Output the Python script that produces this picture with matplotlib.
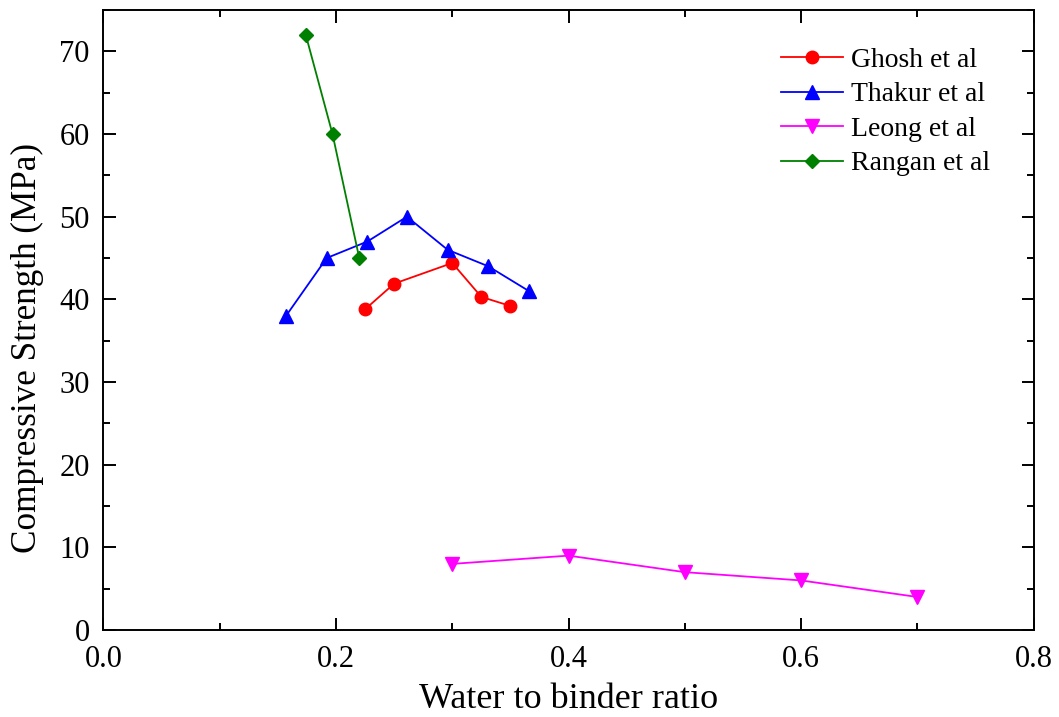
import matplotlib
matplotlib.use("Agg")
import matplotlib.pyplot as plt
from matplotlib.ticker import MultipleLocator, FormatStrFormatter

plt.rcParams['font.family'] = ['Liberation Serif', 'DejaVu Serif']

ghosh_x = [0.225, 0.25, 0.30, 0.325, 0.35]
ghosh_y = [38.8, 41.9, 44.4, 40.3, 39.2]

thakur_x = [0.157, 0.192, 0.227, 0.261, 0.296, 0.331, 0.366]
thakur_y = [38, 45, 47, 50, 46, 44, 41]

leong_x = [0.3, 0.4, 0.5, 0.6, 0.7]
leong_y = [8, 9, 7, 6, 4]

rangan_x = [0.174, 0.197, 0.220]
rangan_y = [72, 60, 45]

fig = plt.figure(figsize=(10.59, 7.17), dpi=100)
ax = fig.add_axes([0.0977, 0.1213, 0.8783, 0.8647])

ax.plot(ghosh_x, ghosh_y, color='#ff0000', marker='o', markersize=9, lw=1.3, label='Ghosh et al')
ax.plot(thakur_x, thakur_y, color='#0000ff', marker='^', markersize=10, lw=1.3, label='Thakur et al')
ax.plot(leong_x, leong_y, color='#ff00ff', marker='v', markersize=10, lw=1.3, label='Leong et al')
ax.plot(rangan_x, rangan_y, color='#008000', marker='D', markersize=7.5, lw=1.3, label='Rangan et al')

ax.set_xlim(0, 0.8)
ax.set_ylim(0, 75)
ax.xaxis.set_major_locator(MultipleLocator(0.2))
ax.xaxis.set_minor_locator(MultipleLocator(0.1))
ax.yaxis.set_major_locator(MultipleLocator(10))
ax.yaxis.set_minor_locator(MultipleLocator(5))
ax.xaxis.set_major_formatter(FormatStrFormatter('%.1f'))

ax.tick_params(which='both', direction='in', top=True, right=True, labelsize=22, width=1.4)
ax.tick_params(which='major', length=9)
ax.tick_params(which='minor', length=5)
ax.tick_params(axis='x', which='major', pad=11)
ax.tick_params(axis='y', which='major', pad=10)
for s in ax.spines.values():
    s.set_linewidth(1.4)

ax.set_xlabel('Water to binder ratio', fontsize=26, labelpad=6)
ax.set_ylabel('Compressive Strength (MPa)', fontsize=25.3)
ax.yaxis.set_label_coords(-0.064, 0.455)

leg = ax.legend(loc='upper right', frameon=False, fontsize=20, handlelength=2.23,
                labelspacing=0.33, bbox_to_anchor=(0.9656, 0.958), handletextpad=0.29,
                borderaxespad=0.0)

fig.savefig('out.png', dpi=100)
